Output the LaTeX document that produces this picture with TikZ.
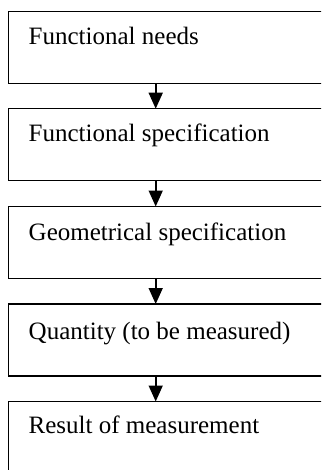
\documentclass[tikz,border=0pt]{standalone}
\usepackage{fontspec}
\setmainfont{Liberation Serif}
\usetikzlibrary{arrows.meta}
\tikzset{
  box/.style={draw, line width=1.6pt, rectangle, anchor=north west, minimum width=330pt, minimum height=72pt, inner sep=0pt, outer sep=0pt},
  lbl/.style={anchor=base west, inner sep=0pt, font=\fontsize{25}{30}\selectfont},
  arr/.style={line width=1.6pt, -{Triangle[width=14pt,length=16pt]}}
}
\begin{document}
\begin{tikzpicture}[x=1pt,y=-1pt]
\clip (0,0) rectangle (321,470);
\node[box] (b1) at (8.3,11.7) {};
\node[box] (b2) at (8.3,108.7) {};
\node[box] (b3) at (8.3,206.5) {};
\node[box] (b4) at (8.3,304) {};
\node[box] (b5) at (8.3,401.5) {};
\node[lbl] (t1) at (28.5,44.7) {Functional needs};
\node[lbl] (t2) at (28.5,141.7) {Functional specification};
\node[lbl] (t3) at (28.5,240.5) {Geometrical specification};
\node[lbl] (t4) at (28.5,339) {Quantity (to be measured)};
\node[lbl] (t5) at (28.5,433.5) {Result of measurement};
\coordinate (ax) at (155.7,0);
\draw[arr] (b1.south -| ax) -- (b2.north -| ax);
\draw[arr] (b2.south -| ax) -- (b3.north -| ax);
\draw[arr] (b3.south -| ax) -- (b4.north -| ax);
\draw[arr] (b4.south -| ax) -- (b5.north -| ax);
\end{tikzpicture}
\end{document}
